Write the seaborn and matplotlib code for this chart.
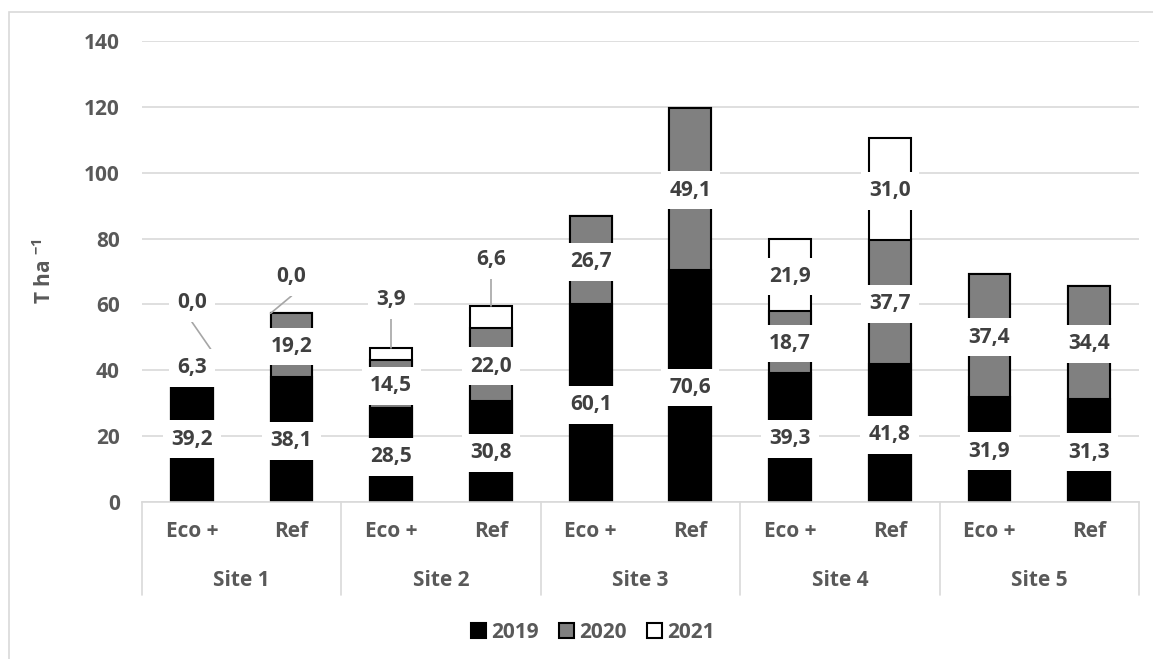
import matplotlib
matplotlib.use('Agg')
import matplotlib.pyplot as plt
import matplotlib.patches as mpatches
import matplotlib.transforms as mtransforms
import seaborn as sns
import pandas as pd
import numpy as np

# data
sites = ['Site 1', 'Site 2', 'Site 3', 'Site 4', 'Site 5']
treatments = ['Eco +', 'Ref']
years = ['2019', '2020', '2021']
# one value per bar: Site 1 Eco+, Site 1 Ref, Site 2 Eco+, ...
y2019 = [39.2, 38.1, 28.5, 30.8, 60.1, 70.6, 39.3, 41.8, 31.9, 31.3]
y2020 = [6.3, 19.2, 14.5, 22.0, 26.7, 49.1, 18.7, 37.7, 37.4, 34.4]
y2021 = [0.0, 0.0, 3.9, 6.6, np.nan, np.nan, 21.9, 31.0, np.nan, np.nan]
year_colors = ['#000000', '#808080', '#FFFFFF']

sns.set_style('white')
FONT = 'Open Sans'
plt.rcParams['font.family'] = [FONT, 'DejaVu Sans']
plt.rcParams['font.weight'] = 'bold'
plt.rcParams['mathtext.fontset'] = 'custom'
plt.rcParams['mathtext.rm'] = FONT + ':bold'
plt.rcParams['mathtext.bf'] = FONT + ':bold'

TXT = '#595959'
LBL = '#404040'
GRID = '#D9D9D9'
FS = 15
W = 0.42

bar_keys = [f'{s}|{t}' for s in sites for t in treatments]
df = pd.DataFrame({'bar': bar_keys, '2019': y2019, '2020': y2020, '2021': y2021})
df['c2019'] = df['2019']
df['c2020'] = df['c2019'] + df['2020']
df['c2021'] = df['c2020'] + df['2021'].fillna(0)

fig = plt.figure(figsize=(11.53, 6.59), dpi=100)
ax = fig.add_axes([142 / 1153, 1 - 502 / 659, 997 / 1153, 461 / 659])

# stacked bars: draw cumulative totals from the top layer down
for yr, col in zip(years[::-1], year_colors[::-1]):
    sns.barplot(data=df, x='bar', y='c' + yr, order=bar_keys, color=col,
                edgecolor='black', linewidth=1.5, width=W, saturation=1,
                errorbar=None, ax=ax, zorder=2)

ax.set_xlim(-0.5, 9.5)
ax.set_ylim(0, 140)
ax.set_yticks(np.arange(0, 141, 20))
ax.yaxis.grid(True, color=GRID, lw=1.2)
ax.set_axisbelow(True)
for s in ['top', 'right', 'left']:
    ax.spines[s].set_visible(False)
ax.spines['bottom'].set_color(GRID)
ax.spines['bottom'].set_linewidth(1.2)
ax.tick_params(axis='y', length=0, pad=16, labelsize=FS, labelcolor=TXT)
ax.set_xticks(range(len(bar_keys)))
ax.set_xticklabels(treatments * len(sites))
ax.tick_params(axis='x', length=0, pad=14, labelsize=FS, labelcolor=TXT)
for t in ax.get_xticklabels() + ax.get_yticklabels():
    t.set_fontweight('bold')
ax.set_xlabel('')
ax.set_ylabel(r'T ha $^{\mathbf{-1}}$', fontsize=FS, color=TXT, fontweight='bold')
ax.yaxis.set_label_coords(-0.086, 0.5)

# multi-level category axis
trans = mtransforms.blended_transform_factory(ax.transData, ax.transAxes)
for k, s in enumerate(sites):
    ax.text(2 * k + 0.5, -0.171, s, transform=trans, ha='center', va='center',
            fontsize=FS, color=TXT, fontweight='bold')
for b in np.arange(-0.5, 10, 2):
    ax.plot([b, b], [0, -0.2017], transform=trans, color=GRID, lw=1.2, clip_on=False)

# data labels (custom spots for the small 2021 values, as in the original)
moved = {(0, '2021'): 60.5, (1, '2021'): 68.4, (2, '2021'): 61.4,
         (3, '2021'): 73.5, (0, '2020'): 40.7}
leader_side = {0: 1, 1: -1, 2: 0, 3: 0}
box = dict(boxstyle='square,pad=0.4', fc='white', ec='none')
for i in range(len(bar_keys)):
    for yr in years:
        v = df[yr][i]
        if np.isnan(v):
            continue
        base = df['c' + yr][i] - v
        ly = moved.get((i, yr), base + v / 2 - 0.5)
        ax.text(i, ly, f'{v:.1f}'.replace('.', ','), ha='center', va='center',
                fontsize=FS, color=LBL, fontweight='bold', bbox=box, zorder=5)
        if yr == '2021' and i in leader_side:
            ax.plot([i, i + leader_side[i] * W / 2], [ly - 5.8, df['c2021'][i]],
                    color='#A6A6A6', lw=1.2, zorder=4)

handles = [mpatches.Patch(facecolor=c, edgecolor='black', lw=1.5, label=y)
           for y, c in zip(years, year_colors)]
leg = fig.legend(handles=handles, loc='center', bbox_to_anchor=(593 / 1153, 1 - 632 / 659),
                 ncol=3, frameon=False, handlelength=0.7, handleheight=0.7,
                 handletextpad=0.25, columnspacing=1.0, prop={'size': FS, 'weight': 'bold'})
for t in leg.get_texts():
    t.set_color(TXT)

fig.patches.append(mpatches.Rectangle((9 / 1153, -0.1), 1.2, 1.1 - 12 / 659,
                                      transform=fig.transFigure, fill=False,
                                      ec=GRID, lw=1.2))

fig.savefig('out.png', dpi=100)
